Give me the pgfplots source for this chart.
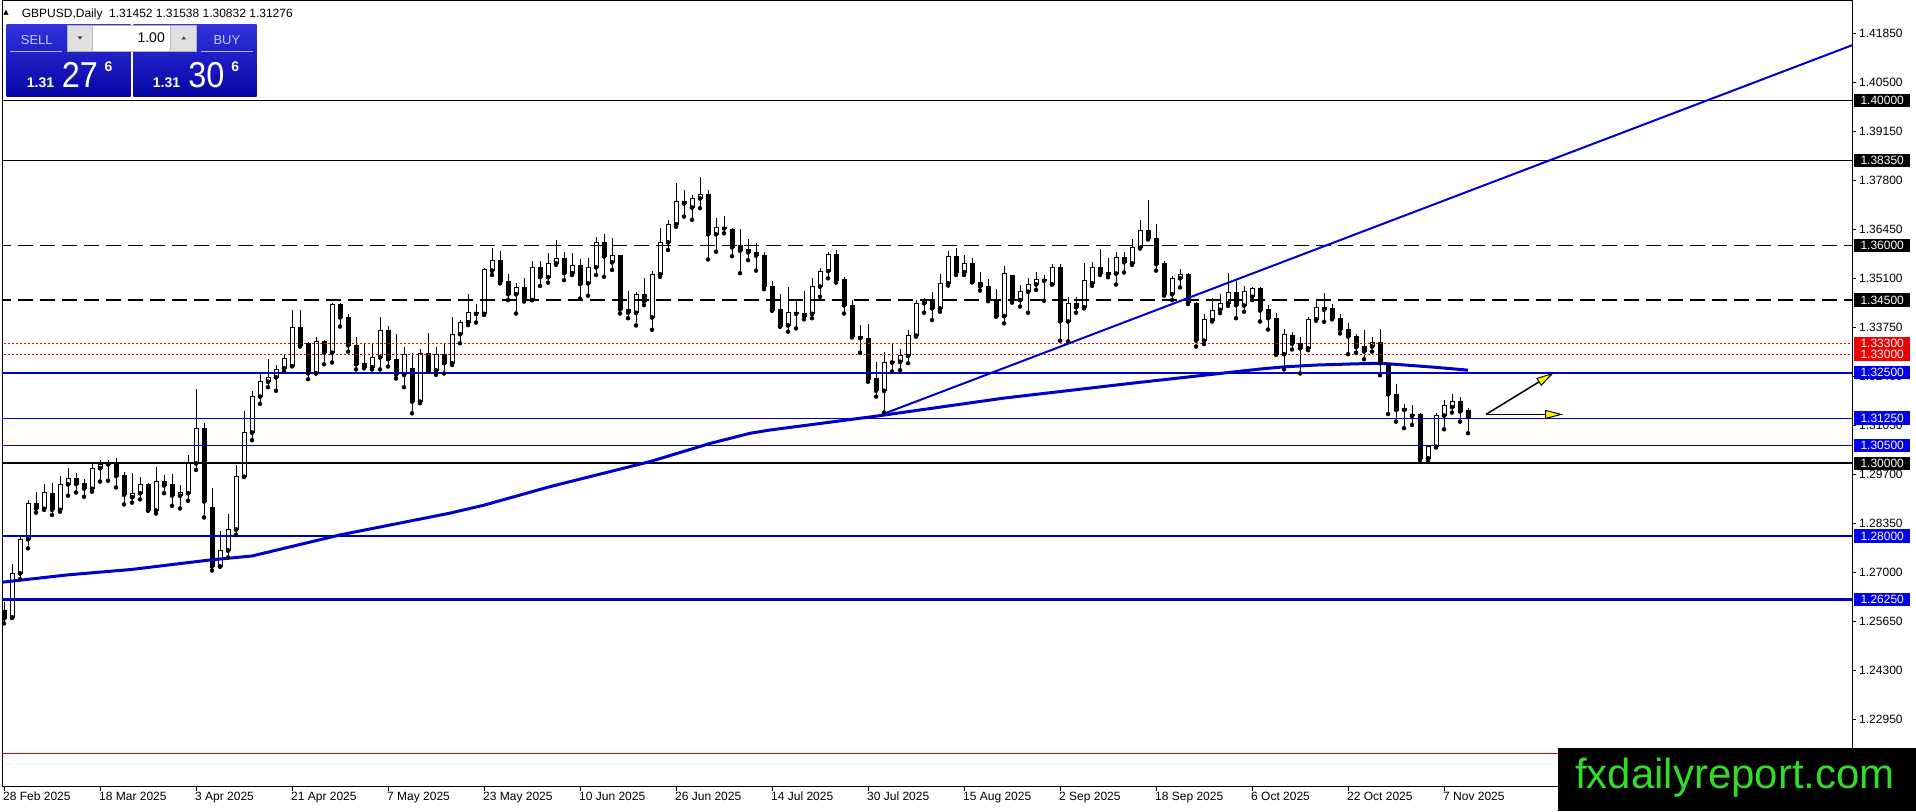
\documentclass[border=0pt]{standalone}
\usepackage{pgfplots}
\pgfplotsset{compat=1.18}
\usepackage{pgfplotstable}
\usepackage{fontspec}
\setmainfont{Liberation Sans}
\newfontfamily\dejavu{DejaVu Sans}
\usetikzlibrary{arrows.meta}
\definecolor{mtblue}{RGB}{0,0,205}
\definecolor{boxblue}{RGB}{0,0,235}
\definecolor{mtred}{RGB}{235,0,0}
\definecolor{wmgreen}{RGB}{50,220,40}
\definecolor{mtyellow}{RGB}{255,255,0}

\pgfplotstableread{
i O H L C
1 1.2576 1.2723 1.2574 1.2697
2 1.2697 1.2798 1.2681 1.2791
3 1.2791 1.2899 1.2766 1.2890
5 1.2875 1.2943 1.2872 1.2920
7 1.2872 1.2965 1.2867 1.2943
8 1.2942 1.2986 1.2911 1.2959
11 1.2930 1.3002 1.2922 1.2986
12 1.2987 1.3009 1.2950 1.2997
16 1.2907 1.2973 1.2892 1.2918
17 1.2918 1.2963 1.2901 1.2943
19 1.2870 1.2989 1.2862 1.2950
22 1.2911 1.2940 1.2876 1.2919
23 1.2918 1.3023 1.2897 1.3000
24 1.3000 1.3204 1.2982 1.3097
27 1.2716 1.2814 1.2716 1.2760
28 1.2760 1.2862 1.2741 1.2818
29 1.2818 1.2996 1.2803 1.2963
30 1.2963 1.3144 1.2963 1.3085
31 1.3085 1.3199 1.3064 1.3184
32 1.3184 1.3253 1.3164 1.3225
33 1.3225 1.3289 1.3210 1.3237
34 1.3237 1.3271 1.3200 1.3259
35 1.3262 1.3299 1.3253 1.3289
36 1.3268 1.3423 1.3268 1.3375
39 1.3248 1.3347 1.3248 1.3335
41 1.3305 1.3441 1.3278 1.3438
46 1.3265 1.3333 1.3259 1.3292
47 1.3292 1.3402 1.3259 1.3365
50 1.3244 1.3322 1.3210 1.3301
52 1.3170 1.3314 1.3166 1.3303
54 1.3256 1.3320 1.3244 1.3301
56 1.3276 1.3404 1.3271 1.3356
57 1.3356 1.3395 1.3331 1.3389
58 1.3389 1.3467 1.3381 1.3416
59 1.3412 1.3438 1.3388 1.3416
60 1.3412 1.3537 1.3409 1.3535
61 1.3531 1.3593 1.3519 1.3560
64 1.3466 1.3498 1.3413 1.3486
66 1.3450 1.3559 1.3450 1.3540
68 1.3513 1.3579 1.3498 1.3551
69 1.3551 1.3615 1.3547 1.3565
71 1.3524 1.3579 1.3519 1.3546
73 1.3496 1.3565 1.3462 1.3540
74 1.3540 1.3623 1.3519 1.3608
76 1.3554 1.3620 1.3533 1.3572
79 1.3415 1.3473 1.3380 1.3464
81 1.3402 1.3530 1.3368 1.3521
82 1.3521 1.3648 1.3514 1.3609
83 1.3609 1.3671 1.3588 1.3659
84 1.3659 1.3772 1.3652 1.3722
86 1.3705 1.3739 1.3671 1.3730
87 1.3730 1.3790 1.3703 1.3742
89 1.3631 1.3675 1.3583 1.3650
98 1.3380 1.3485 1.3363 1.3416
101 1.3412 1.3510 1.3400 1.3487
102 1.3487 1.3537 1.3459 1.3530
103 1.3530 1.3583 1.3510 1.3576
110 1.3200 1.3308 1.3140 1.3279
111 1.3278 1.3329 1.3253 1.3281
112 1.3280 1.3314 1.3257 1.3296
113 1.3296 1.3368 1.3276 1.3352
114 1.3352 1.3450 1.3349 1.3441
115 1.3441 1.3457 1.3415 1.3448
117 1.3427 1.3521 1.3418 1.3496
118 1.3496 1.3585 1.3490 1.3570
120 1.3527 1.3574 1.3519 1.3551
125 1.3406 1.3544 1.3386 1.3524
127 1.3450 1.3491 1.3432 1.3473
128 1.3473 1.3510 1.3415 1.3493
129 1.3493 1.3528 1.3478 1.3507
131 1.3493 1.3549 1.3493 1.3540
133 1.3391 1.3459 1.3336 1.3441
135 1.3430 1.3553 1.3427 1.3504
136 1.3496 1.3556 1.3489 1.3540
138 1.3521 1.3565 1.3513 1.3525
139 1.3523 1.3583 1.3493 1.3568
141 1.3551 1.3617 1.3547 1.3594
142 1.3594 1.3671 1.3592 1.3641
146 1.3466 1.3517 1.3450 1.3510
147 1.3510 1.3535 1.3485 1.3521
150 1.3338 1.3411 1.3329 1.3397
151 1.3395 1.3455 1.3391 1.3421
152 1.3423 1.3467 1.3414 1.3441
153 1.3441 1.3525 1.3434 1.3470
155 1.3435 1.3489 1.3418 1.3473
156 1.3459 1.3486 1.3450 1.3482
160 1.3301 1.3369 1.3259 1.3356
163 1.3317 1.3402 1.3312 1.3397
164 1.3397 1.3450 1.3393 1.3430
171 1.3322 1.3349 1.3308 1.3333
176 1.3131 1.3161 1.3106 1.3135
178 1.3014 1.3051 1.3008 1.3046
179 1.3046 1.3140 1.3044 1.3132
180 1.3132 1.3175 1.3094 1.3159
181 1.3155 1.3191 1.3140 1.3170
}\bull

\pgfplotstableread{
i O H L C
0 1.2596 1.2619 1.2559 1.2573
4 1.2890 1.2922 1.2864 1.2875
6 1.2918 1.2947 1.2858 1.2872
9 1.2959 1.2973 1.2920 1.2943
10 1.2945 1.2956 1.2908 1.2930
13 1.3002 1.3009 1.2952 1.2997
14 1.3002 1.3014 1.2934 1.2965
15 1.2968 1.2975 1.2887 1.2913
18 1.2943 1.2945 1.2870 1.2870
20 1.2950 1.2968 1.2918 1.2939
21 1.2943 1.2971 1.2883 1.2911
25 1.3097 1.3110 1.2851 1.2895
26 1.2879 1.2931 1.2705 1.2716
37 1.3375 1.3423 1.3322 1.3325
38 1.3329 1.3335 1.3232 1.3248
40 1.3335 1.3340 1.3273 1.3305
42 1.3438 1.3441 1.3377 1.3402
43 1.3402 1.3413 1.3308 1.3325
44 1.3325 1.3347 1.3259 1.3273
45 1.3274 1.3331 1.3262 1.3265
48 1.3365 1.3379 1.3267 1.3287
49 1.3287 1.3357 1.3234 1.3244
51 1.3262 1.3303 1.3138 1.3170
53 1.3303 1.3360 1.3253 1.3253
55 1.3301 1.3331 1.3248 1.3276
62 1.3560 1.3586 1.3496 1.3501
63 1.3502 1.3521 1.3450 1.3466
65 1.3486 1.3510 1.3446 1.3450
67 1.3540 1.3559 1.3489 1.3513
70 1.3565 1.3583 1.3505 1.3524
72 1.3546 1.3562 1.3454 1.3494
75 1.3608 1.3631 1.3514 1.3570
77 1.3574 1.3574 1.3413 1.3424
78 1.3424 1.3475 1.3400 1.3415
80 1.3464 1.3512 1.3436 1.3446
85 1.3722 1.3753 1.3680 1.3716
88 1.3742 1.3753 1.3562 1.3631
90 1.3650 1.3682 1.3634 1.3647
91 1.3645 1.3648 1.3571 1.3595
92 1.3600 1.3645 1.3524 1.3586
93 1.3588 1.3617 1.3560 1.3581
94 1.3581 1.3606 1.3531 1.3572
95 1.3574 1.3583 1.3480 1.3487
96 1.3487 1.3503 1.3421 1.3421
97 1.3423 1.3467 1.3377 1.3377
99 1.3416 1.3450 1.3372 1.3412
100 1.3413 1.3476 1.3397 1.3406
104 1.3576 1.3588 1.3498 1.3505
105 1.3508 1.3513 1.3413 1.3435
106 1.3434 1.3450 1.3347 1.3349
107 1.3351 1.3381 1.3305 1.3345
108 1.3345 1.3383 1.3225 1.3232
109 1.3233 1.3280 1.3184 1.3200
116 1.3448 1.3473 1.3395 1.3427
119 1.3570 1.3593 1.3519 1.3527
121 1.3551 1.3565 1.3499 1.3499
122 1.3499 1.3528 1.3476 1.3487
123 1.3487 1.3508 1.3447 1.3450
124 1.3452 1.3480 1.3404 1.3406
126 1.3519 1.3519 1.3443 1.3450
130 1.3508 1.3519 1.3448 1.3503
132 1.3540 1.3549 1.3338 1.3391
134 1.3441 1.3459 1.3415 1.3430
137 1.3540 1.3590 1.3519 1.3524
140 1.3568 1.3583 1.3526 1.3554
143 1.3641 1.3726 1.3617 1.3620
144 1.3620 1.3660 1.3531 1.3549
145 1.3551 1.3558 1.3462 1.3466
148 1.3521 1.3525 1.3439 1.3443
149 1.3441 1.3446 1.3322 1.3338
154 1.3470 1.3503 1.3400 1.3436
157 1.3482 1.3487 1.3391 1.3421
158 1.3423 1.3436 1.3369 1.3400
159 1.3400 1.3415 1.3299 1.3301
161 1.3352 1.3363 1.3314 1.3329
162 1.3329 1.3349 1.3248 1.3317
165 1.3430 1.3470 1.3390 1.3423
166 1.3426 1.3439 1.3397 1.3400
167 1.3400 1.3413 1.3358 1.3368
168 1.3368 1.3386 1.3301 1.3349
169 1.3349 1.3356 1.3305 1.3320
170 1.3322 1.3367 1.3287 1.3308
172 1.3333 1.3369 1.3243 1.3276
173 1.3276 1.3276 1.3136 1.3190
174 1.3190 1.3219 1.3115 1.3147
175 1.3152 1.3164 1.3097 1.3147
177 1.3135 1.3140 1.3009 1.3014
182 1.3170 1.3182 1.3115 1.3143
183 1.31452 1.31538 1.30832 1.31276
}\bear

\begin{document}
\begin{tikzpicture}[x=1pt,y=1pt]
\useasboundingbox (0,0) rectangle (1916,811);
\fill[white] (0,0) rectangle (1916,811);
\begin{axis}[
  at={(2pt,810pt)}, anchor=north west,
  scale only axis, width=1850pt, height=786pt,
  xmin=-0.25, xmax=231, ymin=1.21085, ymax=1.4274,
  axis line style={black, line width=1pt},
  tick align=outside, major tick length=4pt,
  tick style={black, line width=1pt},
  ytick pos=right, yticklabel pos=right,
  xtick pos=bottom,
  ytick={1.2295,1.2430,1.2565,1.2700,1.2835,1.2970,1.3105,1.3240,1.3375,1.3510,1.3645,1.3780,1.3915,1.4050,1.4185},
  yticklabels={1.22950,1.24300,1.25650,1.27000,1.28350,1.29700,1.31050,1.32400,1.33750,1.35100,1.36450,1.37800,1.39150,1.40500,1.41850},
  xtick={0,12,24,36,48,60,72,84,96,108,120,132,144,156,168,180},
  xticklabels={28 Feb 2025,18 Mar 2025,3 Apr 2025,21 Apr 2025,7 May 2025,23 May 2025,10 Jun 2025,26 Jun 2025,14 Jul 2025,30 Jul 2025,15 Aug 2025,2 Sep 2025,18 Sep 2025,6 Oct 2025,22 Oct 2025,7 Nov 2025},
  tick label style={font=\fontsize{12}{14}\selectfont},
  yticklabel style={anchor=west, inner sep=0pt, xshift=3pt},
  xticklabel style={anchor=north west, inner sep=0pt, xshift=-1pt, yshift=-1pt},
]
% wicks
\addplot[black, only marks, mark=none, forget plot, error bars/.cd, y dir=plus, y explicit, error mark=none, error bar style={black, line width=1pt}]
  table[x=i, y=L, y error expr=\thisrow{H}-\thisrow{L}] {\bull};
\addplot[black, only marks, mark=none, forget plot, error bars/.cd, y dir=plus, y explicit, error mark=none, error bar style={black, line width=1pt}]
  table[x=i, y=L, y error expr=\thisrow{H}-\thisrow{L}] {\bear};
% bearish bodies
\addplot[black, only marks, mark=none, forget plot, error bars/.cd, y dir=plus, y explicit, error mark=none, error bar style={black, line width=5pt}]
  table[x=i, y=C, y error expr=\thisrow{O}-\thisrow{C}] {\bear};
\addplot[black, only marks, mark=-, mark size=2.5pt, mark options={black, line width=1pt}, forget plot] table[x=i, y=O] {\bear};
\addplot[black, only marks, mark=-, mark size=2.5pt, mark options={black, line width=1pt}, forget plot] table[x=i, y=C] {\bear};
% bullish bodies
\addplot[black, only marks, mark=none, forget plot, error bars/.cd, y dir=plus, y explicit, error mark=none, error bar style={black, line width=5pt}]
  table[x=i, y=O, y error expr=\thisrow{C}-\thisrow{O}] {\bull};
\addplot[black, only marks, mark=none, forget plot, error bars/.cd, y dir=plus, y explicit, error mark=none, error bar style={white, line width=3pt}]
  table[x=i, y=O, y error expr=\thisrow{C}-\thisrow{O}] {\bull};
\addplot[black, only marks, mark=-, mark size=2.5pt, mark options={black, line width=1pt}, forget plot] table[x=i, y=O] {\bull};
\addplot[black, only marks, mark=-, mark size=2.5pt, mark options={black, line width=1pt}, forget plot] table[x=i, y=C] {\bull};

% horizontal levels
\addplot[black, line width=1.2pt] coordinates {(-1,1.4000) (232,1.4000)};
\addplot[black, line width=1.2pt] coordinates {(-1,1.3835) (232,1.3835)};
\addplot[black, line width=1.3pt, dash pattern=on 15pt off 7pt] coordinates {(-1,1.3600) (232,1.3600)};
\addplot[black, line width=1.3pt, dash pattern=on 15pt off 7pt] coordinates {(-1,1.3450) (232,1.3450)};
\addplot[mtred, line width=1pt, dash pattern=on 2pt off 2pt] coordinates {(-1,1.3330) (232,1.3330)};
\addplot[mtred, line width=1pt, dash pattern=on 2pt off 2pt] coordinates {(-1,1.3300) (232,1.3300)};
\addplot[mtblue, line width=2.2pt] coordinates {(-1,1.3250) (232,1.3250)};
\addplot[mtblue, line width=1pt] coordinates {(-1,1.3125) (232,1.3125)};
\addplot[mtblue, line width=1pt] coordinates {(-1,1.3050) (232,1.3050)};
\addplot[black, line width=2pt] coordinates {(-1,1.3000) (232,1.3000)};
\addplot[mtblue, line width=2.2pt] coordinates {(-1,1.2800) (232,1.2800)};
\addplot[mtblue, line width=2.2pt] coordinates {(-1,1.2625) (232,1.2625)};
\addplot[mtred, line width=1pt] coordinates {(-1,1.2200) (232,1.2200)};

% trend line
\addplot[mtblue, line width=2pt] coordinates {(109.3,1.3131) (231,1.4152)};
% moving average
\addplot[mtblue, line width=3pt, line join=round] coordinates {
 (-0.5,1.2672) (8,1.2693) (16,1.2708) (25.75,1.2734) (31,1.2745) (42,1.2803)
 (55.75,1.2863) (60,1.2885) (68.25,1.2936) (80.75,1.3005) (88.25,1.3055)
 (93.25,1.3083) (95.75,1.3092) (109.3,1.3131) (125,1.3180) (141,1.3221)
 (157,1.3260) (160,1.3266) (164,1.3271) (168.4,1.3274) (172,1.3276)
 (174.6,1.3272) (178.8,1.3265) (183,1.3257)};

% arrows
\draw[black, line width=1.5pt, -{Triangle[length=18pt,width=9pt,fill=mtyellow,line width=1pt]}]
  (axis cs:185.25,1.3135) -- (axis cs:194.9,1.3135);
\draw[black, line width=1.5pt, -{Triangle[length=18pt,width=9pt,fill=mtyellow,line width=1pt]}]
  (axis cs:185.25,1.3135) -- (axis cs:193.75,1.3250);

% anchor points for price labels
\coordinate (p1400) at (axis cs:231,1.4000);
\coordinate (p1383) at (axis cs:231,1.3835);
\coordinate (p1360) at (axis cs:231,1.3600);
\coordinate (p1345) at (axis cs:231,1.3450);
\coordinate (p1333) at (axis cs:231,1.3330);
\coordinate (p1330) at (axis cs:231,1.3300);
\coordinate (p1325) at (axis cs:231,1.3250);
\coordinate (p1312) at (axis cs:231,1.3125);
\coordinate (p1305) at (axis cs:231,1.3050);
\coordinate (p1300) at (axis cs:231,1.3000);
\coordinate (p1280) at (axis cs:231,1.2800);
\coordinate (p1262) at (axis cs:231,1.2625);
\end{axis}

% price labels on the right scale
\tikzset{pl/.style={fill=#1, text=white, anchor=west, xshift=2pt, minimum width=56pt, minimum height=13.3pt, inner sep=0pt, font=\fontsize{12}{13}\selectfont}}
\node[pl=black] at (p1400) {1.40000};
\node[pl=black] at (p1383) {1.38350};
\node[pl=black] at (p1360) {1.36000};
\node[pl=black] at (p1345) {1.34500};
\node[pl=mtred] at (p1333) {1.33300};
\node[pl=mtred] at (p1330) {1.33000};
\node[pl=boxblue] at (p1325) {1.32500};
\node[pl=boxblue] at (p1312) {1.31250};
\node[pl=boxblue] at (p1305) {1.30500};
\node[pl=black] at (p1300) {1.30000};
\node[pl=boxblue] at (p1280) {1.28000};
\node[pl=boxblue] at (p1262) {1.26250};

% header
\node[anchor=center, inner sep=0pt] at (6,798.5) {\dejavu\fontsize{7}{8}\selectfont ▲};
\node[anchor=base west, inner sep=0pt, font=\fontsize{12}{14}\selectfont] at (21.7,793.7) {GBPUSD,Daily\ \ 1.31452 1.31538 1.30832 1.31276};

% one click trading panel
\shade[top color={rgb,255:red,50;green,50;blue,220}, bottom color={rgb,255:red,5;green,5;blue,165}] (6.7,714.3) rectangle (130.7,786);
\shade[top color={rgb,255:red,50;green,50;blue,220}, bottom color={rgb,255:red,5;green,5;blue,165}] (133.3,714.3) rectangle (256.7,786);
\draw[white!75!blue, line width=0.8pt] (10,759.3) -- (61.7,759.3);
\draw[white!75!blue, line width=0.8pt] (201,759.3) -- (253,759.3);
\fill[gray!25] (67.7,759.3) rectangle (196.7,786);
\draw[gray!60, line width=0.8pt] (67.7,759.3) rectangle (196.7,786);
\fill[white] (92.3,760.3) rectangle (170.7,785);
\draw[gray!50, line width=0.6pt] (92.3,760.3) -- (92.3,785) (170.7,760.3) -- (170.7,785);
\fill[black!75] (77.5,774.5) -- (82.5,774.5) -- (80,771.5) -- cycle;
\fill[black!75] (181.2,771.5) -- (186.2,771.5) -- (183.7,774.5) -- cycle;
\node[anchor=base east, inner sep=0pt, font=\fontsize{14}{16}\selectfont] at (165,768.3) {1.00};
\node[anchor=base west, inner sep=0pt, text={rgb,255:red,200;green,200;blue,255}, font=\fontsize{13}{15}\selectfont] at (20.7,766) {SELL};
\node[anchor=base west, inner sep=0pt, text={rgb,255:red,200;green,200;blue,255}, font=\fontsize{13}{15}\selectfont] at (213.3,766) {BUY};
\node[anchor=base west, inner sep=0pt, text=white, font=\bfseries\fontsize{14}{16}\selectfont] at (26.7,723.7) {1.31};
\node[anchor=base west, inner sep=0pt, text=white, font=\fontsize{36}{40}\selectfont, xscale=0.9, transform shape] at (61.7,723.7) {27};
\node[anchor=base west, inner sep=0pt, text=white, font=\bfseries\fontsize{14}{16}\selectfont] at (104.5,739.3) {6};
\node[anchor=base west, inner sep=0pt, text=white, font=\bfseries\fontsize{14}{16}\selectfont] at (152.7,723.7) {1.31};
\node[anchor=base west, inner sep=0pt, text=white, font=\fontsize{36}{40}\selectfont, xscale=0.9, transform shape] at (188.3,723.7) {30};
\node[anchor=base west, inner sep=0pt, text=white, font=\bfseries\fontsize{14}{16}\selectfont] at (231.2,739.3) {6};

% watermark
\fill[black] (1558,0) rectangle (1916,63.3);
\node[anchor=base west, inner sep=0pt, text=wmgreen, font=\fontsize{42}{46}\selectfont] at (1575,23) {fxdailyreport.com};
\end{tikzpicture}
\end{document}
